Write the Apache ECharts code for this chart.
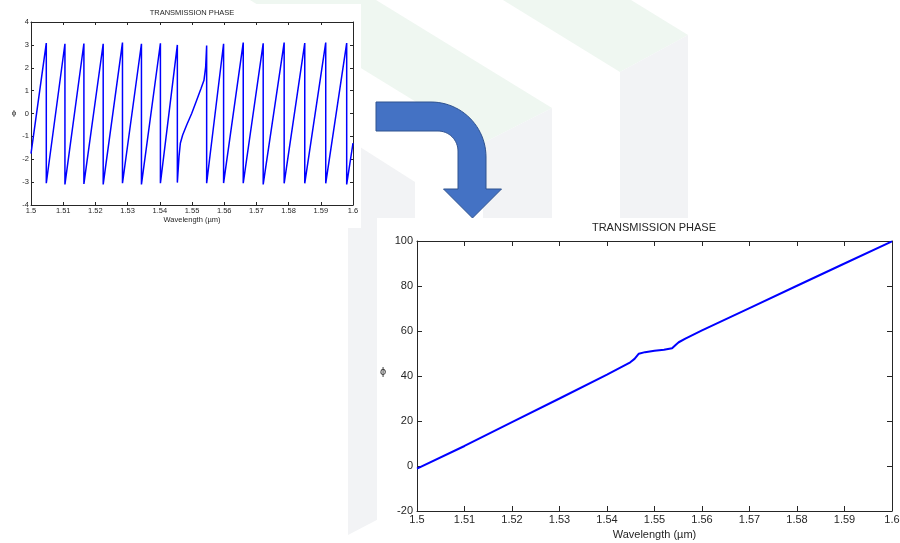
<!DOCTYPE html>
<html>
<head>
<meta charset="utf-8">
<script src="https://cdn.jsdelivr.net/npm/echarts@6.0.0/dist/echarts.min.js"></script>
<style>
  html, body { margin: 0; padding: 0; background: #ffffff; }
  #chart { width: 900px; height: 543px; }
</style>
</head>
<body>
<div id="chart"></div>
<script>
// Wavelength axis ticks (µm), shared by both panels
const wavelengthTicks = [1.5, 1.51, 1.52, 1.53, 1.54, 1.55, 1.56, 1.57, 1.58, 1.59, 1.6];
const wavelengthTickLabels = ['1.5', '1.51', '1.52', '1.53', '1.54', '1.55', '1.56', '1.57', '1.58', '1.59', '1.6'];

// Wrapped transmission phase (rad), upper-left panel
const wrappedWavelength = [
  1.5000, 1.50475, 1.50475, 1.51054, 1.51054, 1.51643, 1.51643, 1.52242, 1.52242,
  1.52841, 1.52841, 1.53430, 1.53430, 1.54019, 1.54019, 1.54545, 1.54545,
  1.54597, 1.54638, 1.54710, 1.54835, 1.54990, 1.55145, 1.55280, 1.55372, 1.55424, 1.55455, 1.55455,
  1.55981, 1.55981, 1.56591, 1.56591, 1.57211, 1.57211, 1.57862, 1.57862,
  1.58502, 1.58502, 1.59153, 1.59153, 1.59804, 1.59804, 1.6000
];
const wrappedPhase = [
  -1.75, 3.08, -3.05, 3.05, -3.10, 3.06, -3.08, 3.05, -3.10,
  3.10, -3.05, 3.05, -3.10, 3.07, -3.05, 3.00, -3.02,
  -1.88, -1.30, -0.94, -0.50, 0.00, 0.58, 1.09, 1.45, 2.03, 2.97, -3.05,
  3.05, -3.04, 3.10, -3.05, 3.07, -3.10, 3.10, -3.05,
  3.08, -3.05, 3.10, -3.05, 3.08, -3.10, -1.30
];

// Unwrapped transmission phase (rad), lower-right panel
const unwrappedWavelength = [
  1.500, 1.510, 1.520, 1.530, 1.540, 1.5449, 1.5458, 1.5467, 1.5480, 1.5500,
  1.5520, 1.5537, 1.5545, 1.5551, 1.5565, 1.560, 1.570, 1.580, 1.590, 1.600
];
const unwrappedPhase = [
  -1.2, 8.9, 19.5, 30.0, 40.6, 46.1, 47.6, 49.9, 50.6, 51.2,
  51.7, 52.3, 53.9, 55.0, 56.6, 60.3, 70.2, 80.1, 90.0, 99.8
];

const wrappedTicks = [-4, -3, -2, -1, 0, 1, 2, 3, 4];
const unwrappedTicks = [-20, 0, 20, 40, 60, 80, 100];

const titleText = 'TRANSMISSION PHASE';
const xLabelText = 'Wavelength (\u00b5m)';
const yLabelText = '\u03d5';

const FONT = '"Liberation Sans", Arial, Helvetica, sans-serif';
const INK = '#262626';

const pairs = (xs, ys) => xs.map((x, i) => [x, ys[i]]);
const tickLabel = v => {
  const i = Math.round((v - wavelengthTicks[0]) / 0.01);
  return wavelengthTickLabels[i] !== undefined ? wavelengthTickLabels[i] : '';
};

// Axis pair builders: a labelled axis plus a mirrored tick-only axis (boxed frame)
function xAxes(gridIndex, fontSize, tickLen, margin, nameGap) {
  const base = {
    type: 'value', gridIndex,
    min: wavelengthTicks[0], max: wavelengthTicks[wavelengthTicks.length - 1], interval: 0.01,
    splitLine: { show: false },
    axisLine: { show: true, onZero: false, lineStyle: { color: INK, width: 1 } },
    axisTick: { show: true, inside: true, length: tickLen, lineStyle: { color: INK } }
  };
  return [
    Object.assign({}, base, {
      position: 'bottom',
      axisLabel: { show: true, formatter: tickLabel, color: INK, fontSize, fontFamily: FONT, margin, showMinLabel: true, showMaxLabel: true },
      name: xLabelText, nameLocation: 'middle', nameGap,
      nameTextStyle: { color: INK, fontSize, fontFamily: FONT }
    }),
    Object.assign({}, base, { position: 'top', axisLabel: { show: false } })
  ];
}
function yAxes(gridIndex, ticks, fontSize, tickLen, margin) {
  const base = {
    type: 'value', gridIndex,
    min: ticks[0], max: ticks[ticks.length - 1], interval: ticks[1] - ticks[0],
    splitLine: { show: false },
    axisLine: { show: true, onZero: false, lineStyle: { color: INK, width: 1 } },
    axisTick: { show: true, inside: true, length: tickLen, lineStyle: { color: INK } }
  };
  return [
    Object.assign({}, base, {
      position: 'left',
      axisLabel: { show: true, color: INK, fontSize, fontFamily: FONT, margin, showMinLabel: true, showMaxLabel: true }
    }),
    Object.assign({}, base, { position: 'right', axisLabel: { show: false } })
  ];
}

// Bent arrow outline: horizontal bar, rounded corner, shaft and head
function bentArrow() {
  const pts = [[376, 102], [431, 102]];
  const arc = (cx, cy, r, a0, a1, n) => {
    for (let k = 1; k <= n; k++) {
      const a = a0 + (a1 - a0) * k / n;
      pts.push([cx + r * Math.cos(a), cy + r * Math.sin(a)]);
    }
  };
  arc(431, 157, 55, -Math.PI / 2, 0, 24);          // outer bend
  pts.push([486, 189], [501.5, 189], [472.5, 218], [443.5, 189], [458, 189], [458, 151]);
  arc(438, 151, 20, 0, -Math.PI / 2, 16);           // inner bend
  pts.push([376, 131]);
  return pts;
}

// Faint background logo shapes, white panels and the connecting arrow
const GRAY = '#f2f3f5';
const GREEN = '#eff7f1';
const backdrop = [
  { type: 'polygon', z: -5, shape: { points: [[503, 0], [631, 0], [688, 35], [620, 72]] }, style: { fill: GREEN } },
  { type: 'polygon', z: -5, shape: { points: [[620, 72], [688, 35], [688, 230], [620, 230]] }, style: { fill: GRAY } },
  { type: 'polygon', z: -5, shape: { points: [[250, 0], [376, 0], [552, 108], [483, 143]] }, style: { fill: GREEN } },
  { type: 'polygon', z: -5, shape: { points: [[483, 143], [552, 108], [552, 230], [483, 230]] }, style: { fill: GRAY } },
  { type: 'polygon', z: -5, shape: { points: [[300, 110], [360, 147], [415, 182], [415, 500], [348, 535], [300, 535]] }, style: { fill: GRAY } },
  { type: 'rect', z: -4, shape: { x: 0, y: 4, width: 361, height: 224 }, style: { fill: '#ffffff' } },
  { type: 'rect', z: -4, shape: { x: 377, y: 218, width: 523, height: 325 }, style: { fill: '#ffffff' } },
  { type: 'rect', z: -4, shape: { x: 0, y: 228, width: 348, height: 315 }, style: { fill: '#ffffff' } },
  { type: 'polygon', z: 10, shape: { points: bentArrow() }, style: { fill: '#4472c4', stroke: '#2f528f', lineWidth: 1 } },
  { type: 'text', z: 10, style: { text: yLabelText, x: 14, y: 113, fill: INK, font: '8px ' + FONT, textAlign: 'center', textVerticalAlign: 'middle' } },
  { type: 'text', z: 10, style: { text: yLabelText, x: 383, y: 372, fill: INK, font: '11px ' + FONT, textAlign: 'center', textVerticalAlign: 'middle' } }
];

const chart = echarts.init(document.getElementById('chart'), null, { renderer: 'canvas' });
chart.setOption({
  backgroundColor: '#ffffff',
  animation: false,
  title: [
    { text: titleText, left: 192, top: 9, padding: 0, textAlign: 'center',
      textStyle: { color: INK, fontSize: 7.5, fontWeight: 'normal', fontFamily: FONT } },
    { text: titleText, left: 654, top: 222, padding: 0, textAlign: 'center',
      textStyle: { color: INK, fontSize: 11, fontWeight: 'normal', fontFamily: FONT } }
  ],
  grid: [
    { left: 31, top: 22, width: 322, height: 183, containLabel: false, outerBoundsMode: 'none' },
    { left: 417, top: 241, width: 475, height: 270, containLabel: false, outerBoundsMode: 'none' }
  ],
  xAxis: [].concat(xAxes(0, 7.5, 3, 2, 11), xAxes(1, 11, 5, 3, 18)),
  yAxis: [].concat(yAxes(0, wrappedTicks, 7.5, 3, 2), yAxes(1, unwrappedTicks, 11, 5, 4)),
  series: [
    {
      type: 'line', xAxisIndex: 0, yAxisIndex: 0,
      data: pairs(wrappedWavelength, wrappedPhase),
      showSymbol: false, symbol: 'none', smooth: false,
      lineStyle: { color: '#0000ff', width: 1.5 }
    },
    {
      type: 'line', xAxisIndex: 2, yAxisIndex: 2,
      data: pairs(unwrappedWavelength, unwrappedPhase),
      showSymbol: false, symbol: 'none', smooth: false,
      lineStyle: { color: '#0000ff', width: 2 }
    }
  ],
  graphic: { elements: backdrop }
});
</script>
</body>
</html>
